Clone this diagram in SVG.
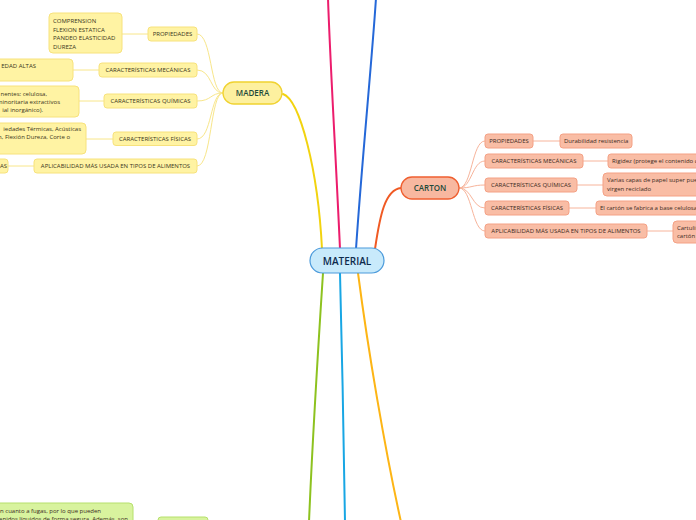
<svg xmlns="http://www.w3.org/2000/svg" width="696" height="520" viewBox="0 0 696 520">
<style>
text{font-family:"Open Sans","Noto Sans","Liberation Sans",sans-serif;}
.yb{fill:#fff3a3;stroke:#f7e27c;stroke-width:1;}
.yt{font-size:6px;fill:#3a3520;}
.ob{fill:#f9bda5;stroke:#f4a185;stroke-width:1;}
.ot{font-size:6px;fill:#3b2a22;}
.gb{fill:#d8f39e;stroke:#b6e06c;stroke-width:1;}
.cy{fill:none;stroke:#f8e68a;stroke-width:1;}
.co{fill:none;stroke:#f7b49b;stroke-width:1;}
.main{fill:none;stroke-width:2;stroke-linecap:round;}
.c{text-anchor:middle;}
.e{text-anchor:end;}
</style>
<rect width="696" height="520" fill="#ffffff"/>
<g id="connectors">
<path class="main" stroke="#f2d30f" d="M283,94 C300,100 318,170 322,249"/>
<path class="main" stroke="#ec1c6c" d="M340,249 C336,160 330,60 328,-2"/>
<path class="main" stroke="#2568d8" d="M356,249 C362,160 372,60 376,-2"/>
<path class="main" stroke="#f05a24" d="M375,249 C380,215 385,190 401,188"/>
<path class="main" stroke="#8dc21f" d="M323,273 C318,350 312,450 309,522"/>
<path class="main" stroke="#18a6e4" d="M340,273 C342,350 344,450 345,522"/>
<path class="main" stroke="#fdb515" d="M358,273 C368,350 385,450 401,522"/>
<path class="cy" d="M197,34 C212,34 210,93 223,93"/>
<path class="cy" d="M197,70 C212,70 210,93 223,93"/>
<path class="cy" d="M197,101 C212,101 210,93 223,93"/>
<path class="cy" d="M197,139 C212,139 210,93 223,93"/>
<path class="cy" d="M197,166 C212,166 210,93 223,93"/>
<path class="cy" d="M122,34 L148,34"/>
<path class="cy" d="M73,70 L99,70"/>
<path class="cy" d="M79,101 L104,101"/>
<path class="cy" d="M86,139 L113,139"/>
<path class="cy" d="M8,166 L34,166"/>
<path class="co" d="M459,188 C472,188 472,141 485,141"/>
<path class="co" d="M459,188 C472,188 472,161 485,161"/>
<path class="co" d="M459,188 C472,188 472,185 485,185"/>
<path class="co" d="M459,188 C472,188 472,208 485,208"/>
<path class="co" d="M459,188 C472,188 472,231 485,231"/>
<path class="co" d="M533,141 L560,141"/>
<path class="co" d="M583,161 L608,161"/>
<path class="co" d="M577,185 L603,185"/>
<path class="co" d="M569,208 L596,208"/>
<path class="co" d="M647,231 L673,231"/>
</g>
<g id="material">
<rect x="310" y="248" width="74" height="25" rx="12.5" fill="#c8eafb" stroke="#4a9adb" stroke-width="1.2"/>
<text class="c" x="347" y="264.5" font-size="10" font-weight="600" fill="#0d2a4d">MATERIAL</text>
</g>
<g id="madera">
<rect x="223" y="82" width="59" height="22" rx="11" fill="#fdf09f" stroke="#f0d230" stroke-width="1.3"/>
<text class="c" x="252.5" y="96" font-size="8" font-weight="600" fill="#1d4a3a">MADERA</text>
</g>
<g id="madera-propiedades">
<rect class="yb" x="148" y="27" width="49" height="14" rx="3"/>
<text class="yt c" x="172.5" y="36.2">PROPIEDADES</text>
</g>
<g id="madera-propiedades-leaf">
<rect class="yb" x="49" y="13" width="73" height="40" rx="4"/>
<text class="yt" x="53" y="23">COMPRENSION</text>
<text class="yt" x="53" y="31.5">FLEXION ESTATICA</text>
<text class="yt" x="53" y="40">PANDEO ELASTICIDAD</text>
<text class="yt" x="53" y="48.5">DUREZA</text>
</g>
<g id="madera-mecanicas">
<rect class="yb" x="99" y="63" width="98" height="14" rx="3"/>
<text class="yt c" x="148" y="72.2">CARACTERÍSTICAS MECÁNICAS</text>
</g>
<g id="madera-mecanicas-leaf">
<rect class="yb" x="-6" y="59" width="79" height="22" rx="4"/>
<text class="yt e" x="36" y="68">EDAD ALTAS</text>
</g>
<g id="madera-quimicas">
<rect class="yb" x="104" y="94" width="93" height="14" rx="3"/>
<text class="yt c" x="150.5" y="103.2">CARACTERÍSTICAS QUÍMICAS</text>
</g>
<g id="madera-quimicas-leaf">
<rect class="yb" x="-6" y="86" width="85" height="31" rx="4"/>
<text class="yt e" x="47" y="96">nentes: celulosa,</text>
<text class="yt e" x="60" y="104">minoritaria extractivos</text>
<text class="yt e" x="43" y="111.5">ial inorgánico).</text>
</g>
<g id="madera-fisicas">
<rect class="yb" x="113" y="132" width="84" height="13.5" rx="3"/>
<text class="yt c" x="155" y="141">CARACTERÍSTICAS FÍSICAS</text>
</g>
<g id="madera-fisicas-leaf">
<rect class="yb" x="-6" y="123" width="92" height="31" rx="4"/>
<text class="yt e" x="81" y="131">iedades Térmicas, Acústicas</text>
<text class="yt e" x="70" y="139">n, Flexión Dureza, Corte o</text>
</g>
<g id="madera-aplicabilidad">
<rect class="yb" x="34" y="159" width="163" height="14" rx="3"/>
<text class="yt c" x="115.5" y="168.2">APLICABILIDAD MÁS USADA EN TIPOS DE ALIMENTOS</text>
</g>
<g id="madera-aplicabilidad-leaf">
<rect class="yb" x="-6" y="159" width="14" height="14" rx="3"/>
<text class="yt e" x="7" y="168.2">AS</text>
</g>
<g id="carton">
<rect x="401" y="177" width="58" height="22" rx="11" fill="#f8b8a0" stroke="#ef5f30" stroke-width="1.3"/>
<text class="c" x="430" y="191" font-size="8" font-weight="600" fill="#1d4a3a">CARTON</text>
</g>
<g id="carton-propiedades">
<rect class="ob" x="485" y="134" width="48" height="14" rx="3"/>
<text class="ot c" x="509" y="143.2">PROPIEDADES</text>
</g>
<g id="carton-propiedades-leaf">
<rect class="ob" x="560" y="134" width="72" height="14" rx="3"/>
<text class="ot" x="564" y="143.2">Durabilidad resistencia</text>
</g>
<g id="carton-mecanicas">
<rect class="ob" x="485" y="154" width="98" height="14" rx="3"/>
<text class="ot c" x="534" y="163.2">CARACTERÍSTICAS MECÁNICAS</text>
</g>
<g id="carton-mecanicas-leaf">
<rect class="ob" x="608" y="154" width="110" height="14" rx="3"/>
<text class="ot" x="612" y="163.2">Rigidez (protege el contenido de</text>
</g>
<g id="carton-quimicas">
<rect class="ob" x="485" y="178" width="92" height="14" rx="3"/>
<text class="ot c" x="531" y="187.2">CARACTERÍSTICAS QUÍMICAS</text>
</g>
<g id="carton-quimicas-leaf">
<rect class="ob" x="603" y="173" width="115" height="23" rx="4"/>
<text class="ot" x="607" y="182">Varias capas de papel super puestas</text>
<text class="ot" x="607" y="190.5">virgen reciclado</text>
</g>
<g id="carton-fisicas">
<rect class="ob" x="485" y="201" width="84" height="14" rx="3"/>
<text class="ot c" x="527" y="210.2">CARACTERÍSTICAS FÍSICAS</text>
</g>
<g id="carton-fisicas-leaf">
<rect class="ob" x="596" y="201" width="122" height="14" rx="3"/>
<text class="ot" x="600" y="210.2">El cartón se fabrica a base celulosa</text>
</g>
<g id="carton-aplicabilidad">
<rect class="ob" x="485" y="224" width="162" height="14" rx="3"/>
<text class="ot c" x="566" y="233.2">APLICABILIDAD MÁS USADA EN TIPOS DE ALIMENTOS</text>
</g>
<g id="carton-aplicabilidad-leaf">
<rect class="ob" x="673" y="221" width="45" height="22" rx="4"/>
<text class="ot" x="677" y="229.5">Cartulina</text>
<text class="ot" x="677" y="237.5">cartón</text>
</g>
<g id="green-leaf">
<rect class="gb" x="-6" y="503" width="139" height="30" rx="4"/>
<text class="ot e" x="101" y="513">en cuanto a fugas, por lo que pueden</text>
<text class="ot e" x="128" y="521">tenidos líquidos de forma segura. Además, son</text>
</g>
<g id="green-sub">
<rect class="gb" x="158" y="517" width="50" height="14" rx="3"/>
</g>
</svg>
